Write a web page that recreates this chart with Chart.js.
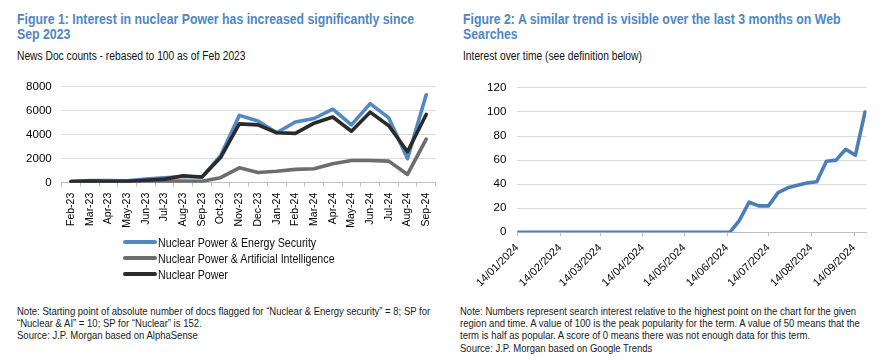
<!DOCTYPE html>
<html>
<head>
<meta charset="utf-8">
<script src="https://cdn.jsdelivr.net/npm/chart.js@4.4.0/dist/chart.umd.min.js"></script>
<style>
  body { margin: 0; background: #fff; }
  #page { position: relative; width: 890px; height: 360px; overflow: hidden;
          font-family: "Liberation Sans", Arial, sans-serif; color: #111; }
  /* the source uses a narrow face; squeeze the regular one to match */
  .nx { transform: scaleX(0.82); transform-origin: 0 0; }
  .title { position: absolute; font-weight: bold; font-size: 15px; line-height: 15px; color: #4F86C3; white-space: nowrap; }
  .sub { position: absolute; font-size: 12.5px; line-height: 14px; white-space: nowrap; }
  .note { position: absolute; font-size: 11px; line-height: 12.2px; white-space: nowrap; color: #1a1a1a;
          transform: scaleX(0.865); transform-origin: 0 0; }
  .box { position: absolute; }
  #legend1 { position: absolute; left: 123px; top: 234px; font-size: 13px; }
  #legend1 .row { height: 16px; display: flex; align-items: center; white-space: nowrap; }
  #legend1 .swatch { width: 34px; height: 4px; margin-right: 1px; border-radius: 2px; }
  #legend1 .txt { display: inline-block; transform: scaleX(0.82); transform-origin: 0 50%; }
</style>
</head>
<body>
<div id="page">
  <div class="title nx" style="left:17px; top:10.6px">Figure 1: Interest in nuclear Power has increased significantly since<br>Sep 2023</div>
  <div class="sub nx" style="left:17px; top:48.7px">News Doc counts - rebased to 100 as of Feb 2023</div>
  <div class="box" style="left:0; top:70px; width:445px; height:170px"><canvas id="chart1" width="445" height="170"></canvas></div>
  <div id="legend1"></div>
  <div class="note" style="left:16.7px; top:305px">Note: Starting point of absolute number of docs flagged for “Nuclear &amp; Energy security” = 8; SP for<br>“Nuclear &amp; AI” = 10; SP for “Nuclear” is 152.<br>Source: J.P. Morgan based on AlphaSense</div>

  <div class="title nx" style="left:463px; top:10.6px">Figure 2: A similar trend is visible over the last 3 months on Web<br>Searches</div>
  <div class="sub nx" style="left:463px; top:48.7px">Interest over time (see definition below)</div>
  <div class="box" style="left:445px; top:70px; width:445px; height:230px"><canvas id="chart2" width="445" height="230"></canvas></div>
  <div class="note" style="left:460px; top:305px">Note: Numbers represent search interest relative to the highest point on the chart for the given<br>region and time. A value of 100 is the peak popularity for the term. A value of 50 means that the<br>term is half as popular. A score of 0 means there was not enough data for this term.<br>Source: J.P. Morgan based on Google Trends</div>
</div>
<script>
// Figure 1 data - news doc counts, rebased to 100 as of Feb 2023
const months = ['Feb-23', 'Mar-23', 'Apr-23', 'May-23', 'Jun-23', 'Jul-23', 'Aug-23', 'Sep-23', 'Oct-23', 'Nov-23',
                'Dec-23', 'Jan-24', 'Feb-24', 'Mar-24', 'Apr-24', 'May-24', 'Jun-24', 'Jul-24', 'Aug-24', 'Sep-24']
const energySecurity = [100, 180, 170, 160, 300, 420, 520, 450, 2250, 5620, 5150, 4170, 5070, 5360, 6150, 4830, 6600, 5410, 2010, 7340]
const artificialIntel = [100, 100, 100, 100, 100, 130, 130, 120, 420, 1240, 850, 950, 1110, 1160, 1590, 1850, 1850, 1800, 690, 3640]
const nuclearPower = [100, 130, 120, 110, 200, 300, 580, 470, 2100, 4910, 4830, 4170, 4120, 4970, 5490, 4300, 5890, 4750, 2590, 5700]
const seriesNames = ['Nuclear Power & Energy Security', 'Nuclear Power & Artificial Intelligence', 'Nuclear Power']
const yTicks1 = [0, 2000, 4000, 6000, 8000]

// Figure 2 data - Google Trends weekly interest
const weeks = ['2024-01-14', '2024-01-21', '2024-01-28', '2024-02-04', '2024-02-11', '2024-02-18', '2024-02-25',
               '2024-03-03', '2024-03-10', '2024-03-17', '2024-03-24', '2024-03-31', '2024-04-07', '2024-04-14',
               '2024-04-21', '2024-04-28', '2024-05-05', '2024-05-12', '2024-05-19', '2024-05-26', '2024-06-02',
               '2024-06-09', '2024-06-16', '2024-06-23', '2024-06-30', '2024-07-07', '2024-07-14', '2024-07-21',
               '2024-07-28', '2024-08-04', '2024-08-11', '2024-08-18', '2024-08-25', '2024-09-01', '2024-09-08',
               '2024-09-15', '2024-09-22']
const interest = [0, 0, 0, 0, 0, 0, 0, 0, 0, 0, 0, 0, 0, 0, 0, 0, 0, 0, 0, 0, 0, 0, 0,
                  10, 25, 22, 22, 33, 37, 39, 41, 42, 59, 60, 69, 64, 100]
const dateTicks = ['14/01/2024', '14/02/2024', '14/03/2024', '14/04/2024', '14/05/2024',
                   '14/06/2024', '14/07/2024', '14/08/2024', '14/09/2024']
const yTicks2 = [0, 20, 40, 60, 80, 100, 120]

Chart.defaults.font.family = '"Liberation Sans", Arial, sans-serif'
Chart.defaults.color = '#000'
Chart.defaults.animation = false

// days since first week, so the time axis can be linear
const t0 = Date.UTC(2024, 0, 14)
const isoDay = (s) => (Date.UTC(+s.slice(0, 4), +s.slice(5, 7) - 1, +s.slice(8, 10)) - t0) / 864e5
const dmyDay = (s) => (Date.UTC(+s.slice(6, 10), +s.slice(3, 5) - 1, +s.slice(0, 2)) - t0) / 864e5
const tickDays = dateTicks.map(dmyDay)

const colors1 = ['#5089C6', '#6D6D6D', '#2B2B2B']
const lineStyle = { pointRadius: 0, borderWidth: 3.6, tension: 0, borderJoinStyle: 'round', borderCapStyle: 'round' }

const chart1 = new Chart(document.getElementById('chart1'), {
    type: 'line',
    data: {
        labels: months,
        datasets: [
            { label: seriesNames[0], data: energySecurity, borderColor: colors1[0], backgroundColor: colors1[0], order: 3, ...lineStyle },
            { label: seriesNames[1], data: artificialIntel, borderColor: colors1[1], backgroundColor: colors1[1], order: 2, ...lineStyle },
            { label: seriesNames[2], data: nuclearPower, borderColor: colors1[2], backgroundColor: colors1[2], order: 1, ...lineStyle }
        ]
    },
    options: {
        responsive: false,
        layout: { padding: { top: 11.7, right: 8, left: 0, bottom: 0 } },
        plugins: { legend: { display: false }, tooltip: { enabled: false } },
        scales: {
            x: {
                offset: true,
                grid: { drawOnChartArea: false, tickLength: 4, color: '#BFBFBF', offset: true },
                border: { color: '#BFBFBF' },
                ticks: { minRotation: 90, maxRotation: 90, autoSkip: false, padding: 6, font: { size: 10.5 } },
                afterFit: (s) => { s.height = 57.3 }
            },
            y: {
                min: yTicks1[0], max: yTicks1[yTicks1.length - 1],
                afterBuildTicks: (s) => { s.ticks = yTicks1.map(v => ({ value: v })) },
                grid: { color: '#D9D9D9', drawTicks: false },
                border: { display: false },
                ticks: { padding: 10, font: { size: 11.5 }, callback: (v) => String(v) },
                afterFit: (s) => { s.width = 61.7 }
            }
        }
    }
})

// legend as a single column under the chart
const legend1 = document.getElementById('legend1')
chart1.data.datasets.forEach((ds) => {
    const row = document.createElement('div')
    row.className = 'row'
    const sw = document.createElement('span')
    sw.className = 'swatch'
    sw.style.background = ds.borderColor
    const txt = document.createElement('span')
    txt.className = 'txt'
    txt.textContent = ds.label
    row.appendChild(sw)
    row.appendChild(txt)
    legend1.appendChild(row)
})

const chart2 = new Chart(document.getElementById('chart2'), {
    type: 'line',
    data: {
        datasets: [{
            label: 'Interest over time',
            data: weeks.map((w, i) => ({ x: isoDay(w), y: interest[i] })),
            borderColor: '#4A7EBB', backgroundColor: '#4A7EBB',
            ...lineStyle
        }]
    },
    options: {
        responsive: false,
        layout: { padding: { top: 11.7, right: 23.3, left: 0, bottom: 0 } },
        plugins: { legend: { display: false }, tooltip: { enabled: false } },
        scales: {
            x: {
                type: 'linear',
                min: 0, max: 253.2,
                afterBuildTicks: (s) => { s.ticks = tickDays.map(v => ({ value: v })) },
                grid: { drawOnChartArea: false, tickLength: 4, color: '#BFBFBF' },
                border: { color: '#BFBFBF' },
                ticks: {
                    minRotation: 45, maxRotation: 45, autoSkip: false, padding: 5, font: { size: 11 },
                    callback: (v, i) => dateTicks[i]
                },
                afterFit: (s) => { s.height = 67.7 }
            },
            y: {
                min: yTicks2[0], max: yTicks2[yTicks2.length - 1],
                afterBuildTicks: (s) => { s.ticks = yTicks2.map(v => ({ value: v })) },
                grid: { color: '#D9D9D9', drawTicks: false },
                border: { display: false },
                ticks: { padding: 11, font: { size: 11.5 } },
                afterFit: (s) => { s.width = 72.3 }
            }
        }
    }
})
</script>
</body>
</html>
